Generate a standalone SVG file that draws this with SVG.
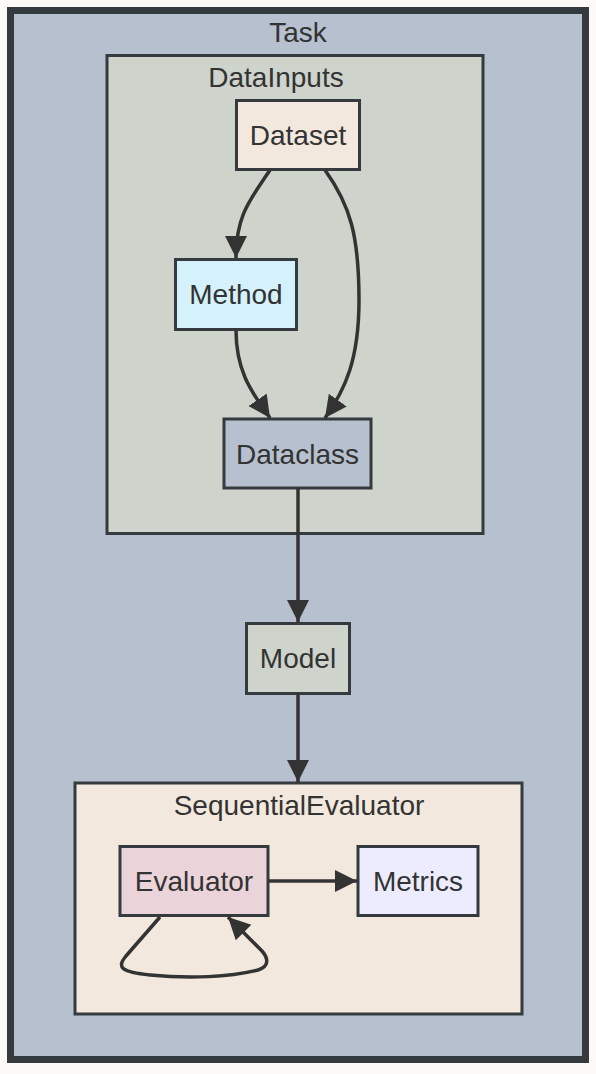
<svg xmlns="http://www.w3.org/2000/svg" width="596" height="1074" viewBox="0 0 596 1074">
<style>
text{font-family:"Liberation Sans",Arial,sans-serif;font-size:28px;fill:#333;text-anchor:middle}
.box{stroke:#353a3f;stroke-width:3}
.edge{fill:none;stroke:#333;stroke-width:3.5}
</style>
<defs>
<marker id="arr" viewBox="0 0 10 10" refX="10" refY="5" markerWidth="22" markerHeight="23" markerUnits="userSpaceOnUse" orient="auto">
<path d="M0,0 L10,5 L0,10 z" fill="#333"/>
</marker>
</defs>
<rect width="596" height="1074" fill="#fcf9f6"/>
<g id="Task">
<rect x="10.5" y="10.5" width="575" height="1049" fill="#b7c0cf" stroke="#353a3f" stroke-width="7"/>
<text x="298" y="42">Task</text>
</g>
<g id="DataInputs">
<rect class="box" x="107" y="55.5" width="376" height="478" fill="#ced3cb"/>
<text x="276" y="87">DataInputs</text>
</g>
<g id="SequentialEvaluator">
<rect class="box" x="75" y="783" width="447" height="231" fill="#f2e8de"/>
<text x="299" y="815">SequentialEvaluator</text>
</g>
<g id="Dataset">
<rect class="box" x="236.5" y="100.5" width="123" height="69" fill="#f2e8de"/>
<text x="298" y="145">Dataset</text>
</g>
<g id="Method">
<rect class="box" x="175.5" y="259.5" width="121" height="70" fill="#d4f1fc"/>
<text x="236" y="304">Method</text>
</g>
<g id="Dataclass">
<rect class="box" x="224" y="419" width="147" height="69" fill="#b7c0cf"/>
<text x="297.5" y="464">Dataclass</text>
</g>
<g id="Model">
<rect class="box" x="246.5" y="623.5" width="103" height="70" fill="#ced3cb"/>
<text x="298" y="668">Model</text>
</g>
<g id="Evaluator">
<rect class="box" x="120" y="846.5" width="148" height="69" fill="#ead3d9"/>
<text x="194" y="891">Evaluator</text>
</g>
<g id="Metrics">
<rect class="box" x="358" y="846.5" width="120" height="69" fill="#ececfe"/>
<text x="418" y="891">Metrics</text>
</g>
<g id="connectors">
<path class="edge" d="M270,170 C250,200 236,215 236,258" marker-end="url(#arr)"/>
<path class="edge" d="M325,170 C350,205 359,235 359,300 C359,360 345,390 325,418" marker-end="url(#arr)"/>
<path class="edge" d="M236,330 C236,375 255,396 270,418" marker-end="url(#arr)"/>
<path class="edge" d="M298,488 L298,622" marker-end="url(#arr)"/>
<path class="edge" d="M298,694 L298,782" marker-end="url(#arr)"/>
<path class="edge" d="M268,881 L357,881" marker-end="url(#arr)"/>
<path class="edge" d="M160,917 L126,956 C116,968 122,972 150,975 C190,979 230,977 258,970 C270,966 268,958 262,951 L228,917" marker-end="url(#arr)"/>
</g>
</svg>
